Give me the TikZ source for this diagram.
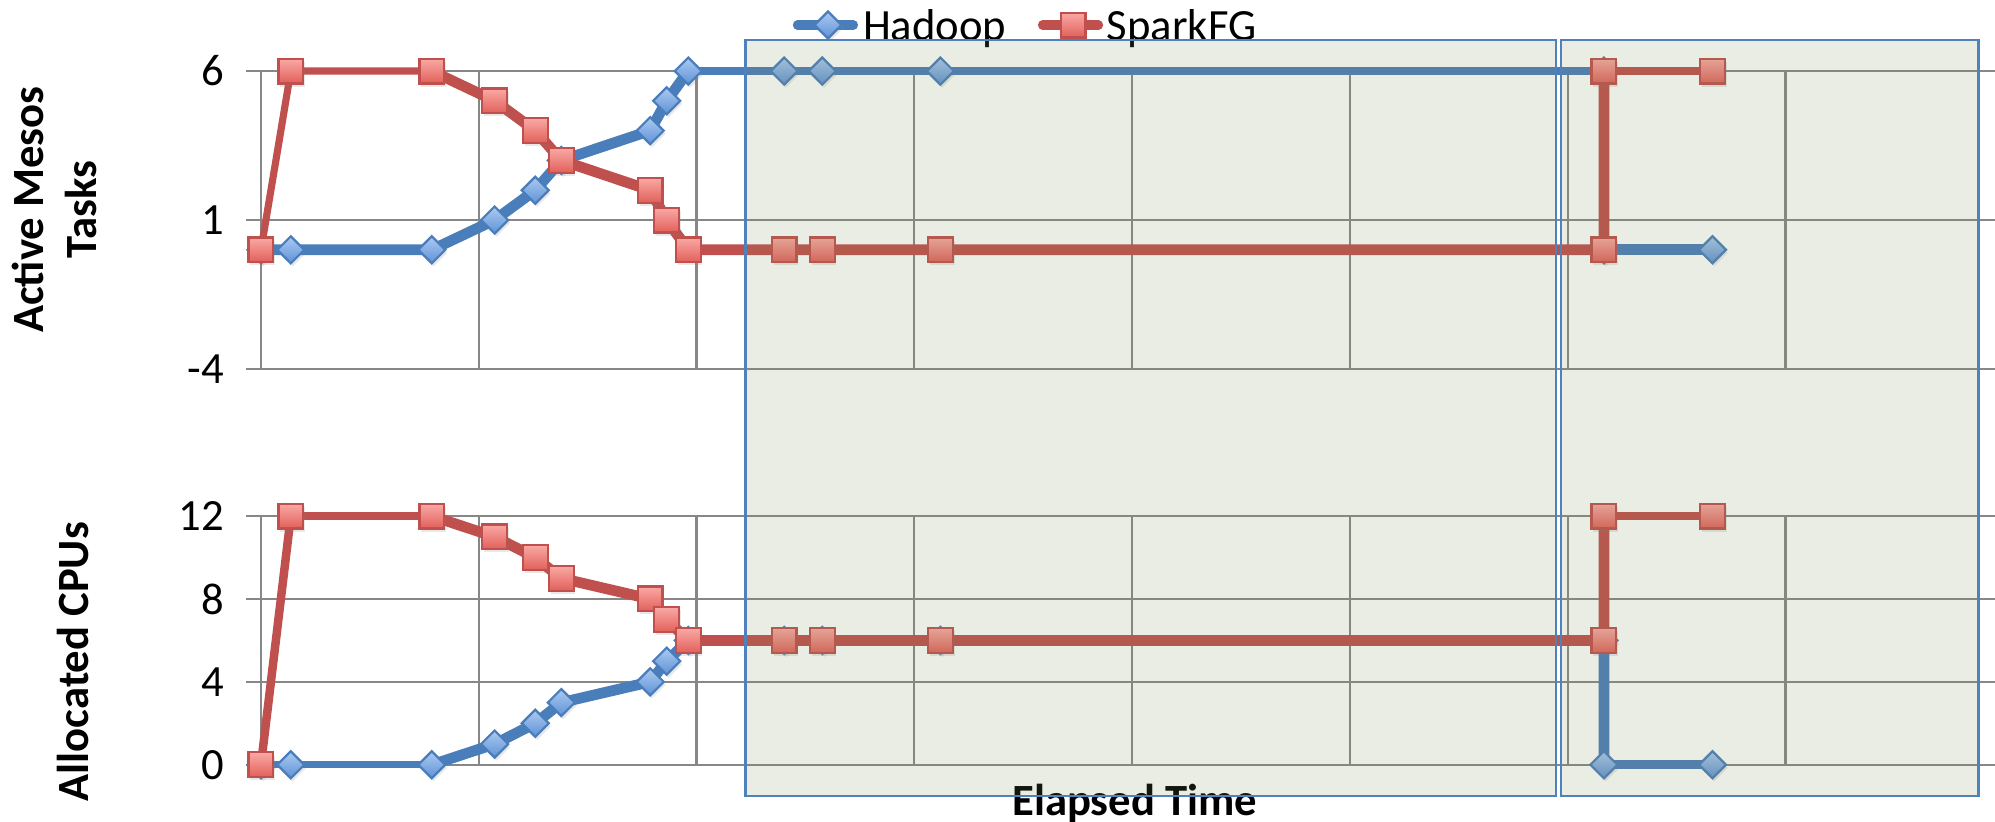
\documentclass[tikz,border=0pt]{standalone}
\usepackage{fontspec}
\setmainfont{Carlito}
\usepackage{xcolor}
\usepackage{tikz}
\usetikzlibrary{shapes.geometric,shadows}
\definecolor{gridgray}{HTML}{878787}
\definecolor{hadoopBlue}{HTML}{4A7EBB}
\definecolor{hadoopHi}{HTML}{ACCAF1}
\definecolor{hadoopLo}{HTML}{5E92D7}
\definecolor{sparkRed}{HTML}{C0504D}
\definecolor{sparkHi}{HTML}{F9A9A5}
\definecolor{sparkLo}{HTML}{E2605A}
\definecolor{boxFill}{HTML}{7C8E56}
\definecolor{boxEdge}{HTML}{4F81BD}
\tikzset{
  gridLine/.style={draw=gridgray, line width=0.5pt},
  tickLbl/.style={anchor=east, inner sep=0pt, font=\fontsize{10}{12}\selectfont},
  axisTitle/.style={rotate=90, align=center, inner sep=0pt, font=\fontsize{10}{12}\selectfont\bfseries},
  legendLbl/.style={anchor=base west, inner sep=0pt, font=\fontsize{10}{12}\selectfont},
  hadoopLine/.style={draw=hadoopBlue, line width=2.4pt, line cap=round, line join=round},
  sparkLine/.style={draw=sparkRed, line width=2.4pt, line cap=round, line join=round},
  thinLine/.style={line width=1.6pt},
  midLine/.style={line width=2pt},
  hadoopMark/.style={diamond, aspect=1, draw=hadoopBlue, line width=0.5pt, inner sep=0pt,
    minimum size=0.22cm, top color=hadoopHi, bottom color=hadoopLo,
    drop shadow={opacity=0.18, shadow xshift=0.4pt, shadow yshift=-0.7pt}},
  sparkMark/.style={rectangle, draw=sparkRed, line width=0.5pt, inner sep=0pt,
    minimum size=0.195cm, top color=sparkHi, bottom color=sparkLo,
    drop shadow={opacity=0.18, shadow xshift=0.4pt, shadow yshift=-0.7pt}},
  shadeBox/.style={draw=boxEdge, line width=0.5pt, fill=boxFill, fill opacity=0.16},
}

\begin{document}
\begin{tikzpicture}[x=0.01cm, y=-0.01cm]
  \useasboundingbox (0,0) rectangle (1571,647);

  % grid of both panels
  \foreach \y in {55.9,173.2,290.5,406.3,471.6,536.9,602.2}
    \draw[gridLine] (194,\y) -- (1571,\y);
  \foreach \k in {0,...,7}{
    \draw[gridLine] ({205.5+171.5*\k},55.9) -- ({205.5+171.5*\k},290.5);
    \draw[gridLine] ({205.5+171.5*\k},406.3) -- ({205.5+171.5*\k},602.2);
  }

  % tick labels
  \foreach \v/\y/\n in {6/55.9/a,1/173.2/b,-4/290.5/c,12/406.3/d,8/471.6/e,4/536.9/f,0/602.2/g}
    \node[tickLbl] (tick\n) at (177,\y) {\v};

  \node[axisTitle] (titleTasks) at (43,165) {Active Mesos\\Tasks};
  \node[axisTitle] (titleCPU) at (57.5,521) {Allocated CPUs};
  \node[font=\fontsize{10}{12}\selectfont\bfseries, anchor=base, inner sep=0pt] (titleTime) at (893.5,642) {Elapsed Time};

  % legend
  \coordinate (legHa) at (628,19.7);
  \coordinate (legHb) at (672,19.7);
  \draw[hadoopLine, line width=2.1pt] (legHa) -- (legHb);
  \node[hadoopMark] (legH) at (652,19.7) {};
  \node[legendLbl] (legHtxt) at (679,31.5) {Hadoop};
  \coordinate (legSa) at (821,19.7);
  \coordinate (legSb) at (865,19.7);
  \draw[sparkLine, line width=2.1pt] (legSa) -- (legSb);
  \node[sparkMark] (legS) at (845,19.7) {};
  \node[legendLbl] (legStxt) at (871,31.5) {SparkFG};

  % samples: index / column / Hadoop tasks / SparkFG tasks / Hadoop CPUs / SparkFG CPUs
  \foreach \i/\x/\a/\b/\c/\d in {0/205.5/0/0/0/0, 1/229/0/6/0/12, 2/340/0/6/0/12,
      3/389.5/1/5/1/11, 4/421.5/2/4/2/10, 5/442/3/3/3/9, 6/512/4/2/4/8,
      7/525/5/1/5/7, 8/542/6/0/6/6, 9/617.5/6/0/6/6, 10/647.5/6/0/6/6,
      11/740.5/6/0/6/6, 12/1263/6/0/6/6, 13/1263/0/6/0/12, 14/1348.5/0/6/0/12}{
    \coordinate (hT\i) at (\x,{196.7-23.46*\a});
    \coordinate (sT\i) at (\x,{196.7-23.46*\b});
    \coordinate (hB\i) at (\x,{602.2-16.32*\c});
    \coordinate (sB\i) at (\x,{602.2-16.32*\d});
  }

  % Hadoop
  \draw[hadoopLine] (hT0) \foreach \i in {1,...,8}{ -- (hT\i)};
  \draw[hadoopLine, thinLine] (hT8) -- (hT12);
  \draw[hadoopLine] (hT12) -- (hT13) -- (hT14);
  \draw[hadoopLine, thinLine] (hB0) -- (hB2);
  \draw[hadoopLine] (hB2) \foreach \i in {3,...,8,12,13}{ -- (hB\i)};
  \draw[hadoopLine, midLine] (hB13) -- (hB14);
  \foreach \i in {0,...,14}{
    \node[hadoopMark] (hmT\i) at (hT\i) {};
    \node[hadoopMark] (hmB\i) at (hB\i) {};
  }

  % SparkFG
  \draw[sparkLine, thinLine] (sT0) -- (sT1) -- (sT2);
  \draw[sparkLine] (sT2) \foreach \i in {3,...,8,12,13}{ -- (sT\i)};
  \draw[sparkLine, thinLine] (sT13) -- (sT14);
  \draw[sparkLine, line width=1.9pt] (sB0) -- (sB1);
  \draw[sparkLine, thinLine] (sB1) -- (sB2);
  \draw[sparkLine] (sB2) \foreach \i in {3,...,8,12,13}{ -- (sB\i)};
  \draw[sparkLine, thinLine] (sB13) -- (sB14);
  \foreach \i in {0,...,14}{
    \node[sparkMark] (smT\i) at (sT\i) {};
    \node[sparkMark] (smB\i) at (sB\i) {};
  }

  % shaded phases
  \draw[shadeBox] (587,31.5) rectangle (1225,627);
  \draw[shadeBox] (1229.5,31.5) rectangle (1558,627);
\end{tikzpicture}
\end{document}
